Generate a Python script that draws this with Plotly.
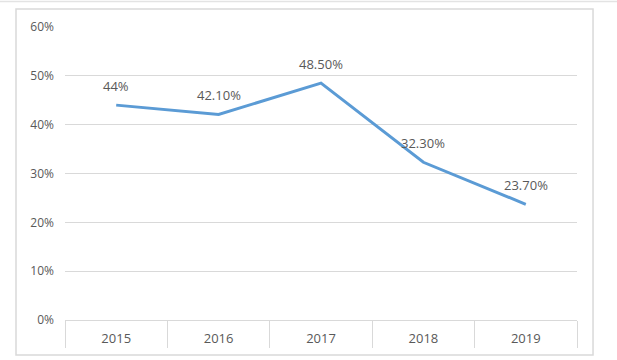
import plotly.graph_objects as go

years = ["2015", "2016", "2017", "2018", "2019"]
values = [44.0, 42.1, 48.5, 32.3, 23.7]
labels = ["44%", "42.10%", "48.50%", "32.30%", "23.70%"]
y_ticks = [0, 10, 20, 30, 40, 50, 60]
y_tick_text = ["0%", "10%", "20%", "30%", "40%", "50%", "60%"]

GRID = "#D9D9D9"
TEXT = "#595959"
FONT = "Open Sans"

fig = go.Figure()
fig.add_trace(go.Scatter(
    x=years, y=values, mode="lines",
    line=dict(color="#5B9BD5", width=3),
    hoverinfo="skip", showlegend=False,
))

for i, (y, t) in enumerate(zip(values, labels)):
    fig.add_annotation(x=i, y=y, xref="x", yref="y", text=t, showarrow=False,
                       yshift=19,
                       font=dict(family=FONT, size=13, color=TEXT))

# outer chart border and top window line
fig.add_shape(type="rect", xref="paper", yref="paper",
              x0=-0.0957, x1=1.0313, y0=-0.1195, y1=1.0614,
              line=dict(color=GRID, width=1.5), layer="below")
fig.add_shape(type="line", xref="paper", yref="paper",
              x0=-0.13, x1=1.08, y0=1.087, y1=1.087,
              line=dict(color="#E3E3E3", width=1.5), layer="below")

fig.update_layout(
    width=617, height=360,
    margin=dict(l=65, r=40, t=27, b=40),
    paper_bgcolor="white", plot_bgcolor="white",
    font=dict(family=FONT, size=12, color=TEXT),
    xaxis=dict(
        type="category", range=[-0.5, 4.5],
        showgrid=False, zeroline=False,
        showline=True, linecolor=GRID, linewidth=1,
        ticks="outside", tickson="boundaries", ticklen=27,
        tickcolor=GRID, tickwidth=1,
        ticklabelstandoff=6,
        tickfont=dict(family=FONT, size=13, color=TEXT),
        fixedrange=True,
    ),
    yaxis=dict(
        range=[0, 60], tickvals=y_ticks, ticktext=y_tick_text,
        showgrid=True, gridcolor=GRID, gridwidth=1,
        zeroline=False, showline=False,
        ticklabelstandoff=10,
        tickfont=dict(family=FONT, size=12, color=TEXT),
        fixedrange=True,
    ),
)

fig.write_html("out.html", config={"displayModeBar": False},
               post_script="document.body.style.margin='0';")
